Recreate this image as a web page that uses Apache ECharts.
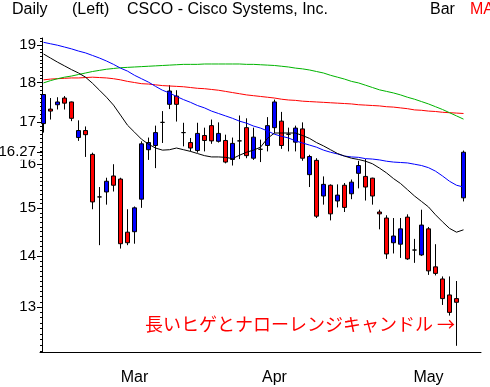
<!DOCTYPE html>
<html><head><meta charset="utf-8">
<script src="https://cdn.jsdelivr.net/npm/echarts@6/dist/echarts.min.js"></script>
<style>html,body{margin:0;padding:0;background:#fff}#c{width:490px;height:387px}</style>
</head><body><div id="c"></div>
<script>
// ---- data (prices) ----
const opens  = [16.96,17.32,17.43,17.60,17.50,16.62,16.79,16.22,15.25,15.36,15.72,15.65,14.49,14.50,15.20,16.33,16.43,16.99,17.44,17.65,16.74,16.50,16.31,16.67,16.91,16.53,16.55,16.10,16.54,16.86,16.13,16.34,16.43,16.86,17.02,16.70,16.51,16.83,15.75,16.08,15.27,15.51,15.16,15.51,15.32,15.78,15.71,15.67,14.92,14.79,14.27,14.24,14.81,14.12,14.02,14.56,13.78,13.54,13.23,13.16,15.23];
const closes = [17.69,17.27,17.50,17.47,17.09,16.79,16.69,15.14,15.25,15.60,15.51,14.25,14.27,15.01,16.47,16.50,16.74,16.99,17.78,17.44,16.74,16.37,16.72,16.55,16.54,16.72,16.04,16.48,16.54,16.19,16.63,16.34,16.91,17.50,16.43,16.70,16.85,16.13,16.17,14.83,15.53,14.88,15.29,15.02,15.58,15.96,15.47,15.27,14.88,14.04,14.41,14.56,13.94,14.12,14.64,13.70,13.65,13.16,12.90,13.09,16.27];
const lows   = [16.74,17.06,17.31,17.31,17.02,16.54,16.16,14.98,14.22,15.08,15.37,14.15,14.22,14.25,15.01,16.09,15.90,16.49,17.32,17.01,16.41,16.29,16.26,16.29,16.47,16.50,16.01,15.96,16.11,16.13,16.09,16.04,16.29,16.72,16.35,16.29,16.29,16.07,15.47,14.79,15.08,14.74,15.02,14.92,15.20,15.44,15.17,15.08,14.55,13.94,14.05,13.96,13.92,13.86,14.00,13.62,13.61,13.04,12.84,12.29,15.15];
const highs  = [17.70,17.60,17.62,17.65,17.51,17.04,16.89,16.26,15.47,15.68,15.99,15.68,14.98,15.04,16.53,16.62,16.91,17.27,17.93,17.80,16.98,16.61,16.98,16.86,17.06,16.99,16.69,16.62,17.16,17.09,16.86,16.57,17.12,17.56,17.25,16.86,16.91,16.99,16.21,16.13,15.71,15.53,15.53,15.56,15.64,16.07,16.11,15.68,14.97,14.85,14.79,14.79,14.87,14.35,14.97,14.60,14.24,13.59,13.59,13.50,16.31];
const maBlue  = [19.08,19.04,19.00,18.95,18.90,18.84,18.79,18.72,18.65,18.57,18.48,18.38,18.30,18.19,18.10,18.01,17.90,17.80,17.73,17.64,17.56,17.49,17.41,17.35,17.27,17.21,17.15,17.09,17.02,16.97,16.90,16.85,16.78,16.70,16.65,16.61,16.54,16.49,16.44,16.39,16.32,16.27,16.23,16.18,16.16,16.15,16.12,16.11,16.09,16.06,16.04,16.03,16.02,15.99,15.96,15.91,15.83,15.72,15.60,15.51,15.47];
const maBlack = [18.76,18.65,18.54,18.44,18.34,18.25,18.14,17.98,17.80,17.62,17.42,17.17,16.92,16.75,16.58,16.46,16.37,16.32,16.33,16.37,16.33,16.29,16.24,16.19,16.16,16.16,16.15,16.12,16.20,16.27,16.32,16.39,16.60,16.73,16.73,16.73,16.73,16.67,16.60,16.50,16.42,16.33,16.24,16.18,16.13,16.10,16.06,16.00,15.90,15.79,15.66,15.55,15.41,15.27,15.15,15.03,14.86,14.71,14.57,14.49,14.54];
const maGreen = [17.99,18.05,18.10,18.14,18.17,18.21,18.25,18.29,18.32,18.35,18.37,18.39,18.40,18.41,18.42,18.43,18.44,18.45,18.46,18.47,18.48,18.48,18.48,18.49,18.49,18.49,18.49,18.49,18.49,18.48,18.48,18.47,18.46,18.45,18.43,18.41,18.38,18.36,18.33,18.29,18.25,18.19,18.14,18.09,18.03,17.99,17.93,17.87,17.81,17.77,17.73,17.68,17.62,17.57,17.51,17.45,17.38,17.31,17.23,17.15,17.07];
const maRed   = [18.07,18.09,18.10,18.11,18.12,18.12,18.13,18.14,18.13,18.12,18.10,18.07,18.03,18.00,17.97,17.96,17.94,17.92,17.91,17.90,17.89,17.87,17.85,17.84,17.82,17.80,17.77,17.74,17.71,17.68,17.66,17.64,17.62,17.60,17.57,17.55,17.54,17.52,17.51,17.50,17.49,17.48,17.47,17.46,17.45,17.43,17.42,17.41,17.40,17.38,17.37,17.35,17.33,17.30,17.29,17.27,17.26,17.24,17.23,17.22,17.21];
const yTickLabels = [13,14,15,16,17,18,19];
const lastPrice = 16.27;
const monthLabels = {13:'Mar',33:'Apr',55:'May'};
const slotCount = 63;
const yMin = 12.18, yMax = 19.2;

// ---- build ----
const L = Math.log;
const categories = Array.from({length: slotCount}, (_, i) => monthLabels[i] || ('d' + i));
const candles = opens.map((o, i) => [L(o), L(closes[i]), L(lows[i]), L(highs[i])]);
const lnArr = a => a.map(v => L(v));
const labelVals = yTickLabels.concat([lastPrice]);
const minorVals = [];
for (let k = 122; k <= 192; k++) minorVals.push(L(k / 10));
const FONT = "'Liberation Sans',sans-serif";

const chart = echarts.init(document.getElementById('c'), null, {renderer: 'canvas'});
const yCommon = {type: 'value', min: L(yMin), max: L(yMax), position: 'left', offset: -2, splitLine: {show: false}};
chart.setOption({
  animation: false,
  backgroundColor: '#fff',
  grid: {left: 40, top: 38, width: 7 * slotCount, height: 314, outerBoundsMode: 'none', containLabel: false},
  xAxis: [
    {type: 'category', data: categories, boundaryGap: true,
     axisLine: {lineStyle: {color: '#000', width: 1}},
     axisTick: {alignWithLabel: true, interval: (i) => i <= 60, length: 4, lineStyle: {color: '#000'}},
     axisLabel: {show: false}},
    {type: 'category', data: categories, boundaryGap: true, position: 'bottom',
     axisLine: {show: false},
     axisTick: {alignWithLabel: true, interval: (i) => monthLabels[i] !== undefined, length: 11, lineStyle: {color: '#000'}},
     axisLabel: {interval: (i) => monthLabels[i] !== undefined, formatter: (v) => v, margin: 18,
                 color: '#000', fontSize: 16, fontFamily: FONT}}
  ],
  yAxis: [
    Object.assign({}, yCommon, {
      axisLine: {show: true, lineStyle: {color: '#000'}},
      axisTick: {show: true, customValues: labelVals.map(L), length: 5, lineStyle: {color: '#000'}},
      axisLabel: {customValues: labelVals.map(L), margin: 6, color: '#000', fontSize: 15, fontFamily: FONT,
                  backgroundColor: '#fff',
                  formatter: (v) => { let best = labelVals[0]; labelVals.forEach(l => { if (Math.abs(L(l) - v) < Math.abs(L(best) - v)) best = l; }); return String(best); }}
    }),
    Object.assign({}, yCommon, {
      axisLine: {show: false},
      axisTick: {show: true, customValues: minorVals, length: 2, lineStyle: {color: '#000'}},
      axisLabel: {show: false}
    })
  ],
  series: [
    {type: 'candlestick', data: candles, barWidth: 4,
     itemStyle: {color: '#0000ff', color0: '#ff0000', borderColor: '#000', borderColor0: '#000', borderColorDoji: '#000', borderWidth: 1}},
    {type: 'line', data: lnArr(maRed), showSymbol: false, lineStyle: {color: '#ff0000', width: 1}, z: 3},
    {type: 'line', data: lnArr(maGreen), showSymbol: false, lineStyle: {color: '#00b400', width: 1}, z: 3},
    {type: 'line', data: lnArr(maBlue), showSymbol: false, lineStyle: {color: '#0000ff', width: 1}, z: 3},
    {type: 'line', data: lnArr(maBlack), showSymbol: false, lineStyle: {color: '#000000', width: 1}, z: 3}
  ],
  graphic: [
    {type: 'text', left: 12, top: 2, style: {text: 'Daily', fill: '#000', font: "16px 'Liberation Sans'"}},
    {type: 'text', left: 72, top: 2, style: {text: '(Left)', fill: '#000', font: "16px 'Liberation Sans'"}},
    {type: 'text', left: 127, top: 2, style: {text: 'CSCO - Cisco Systems, Inc.', fill: '#000', font: "16px 'Liberation Sans'"}},
    {type: 'text', left: 430, top: 2, style: {text: 'Bar', fill: '#000', font: "16px 'Liberation Sans'"}},
    {type: 'text', x: 470, y: 2, style: {text: 'MA', fill: '#ff0000', font: "16px 'Liberation Sans'"}},
    {type: 'text', left: 145, top: 315, style: {text: '長いヒゲとナローレンジキャンドル →', fill: '#ff0000', font: "18px 'Noto Sans CJK JP'"}}
  ]
});
</script></body></html>
